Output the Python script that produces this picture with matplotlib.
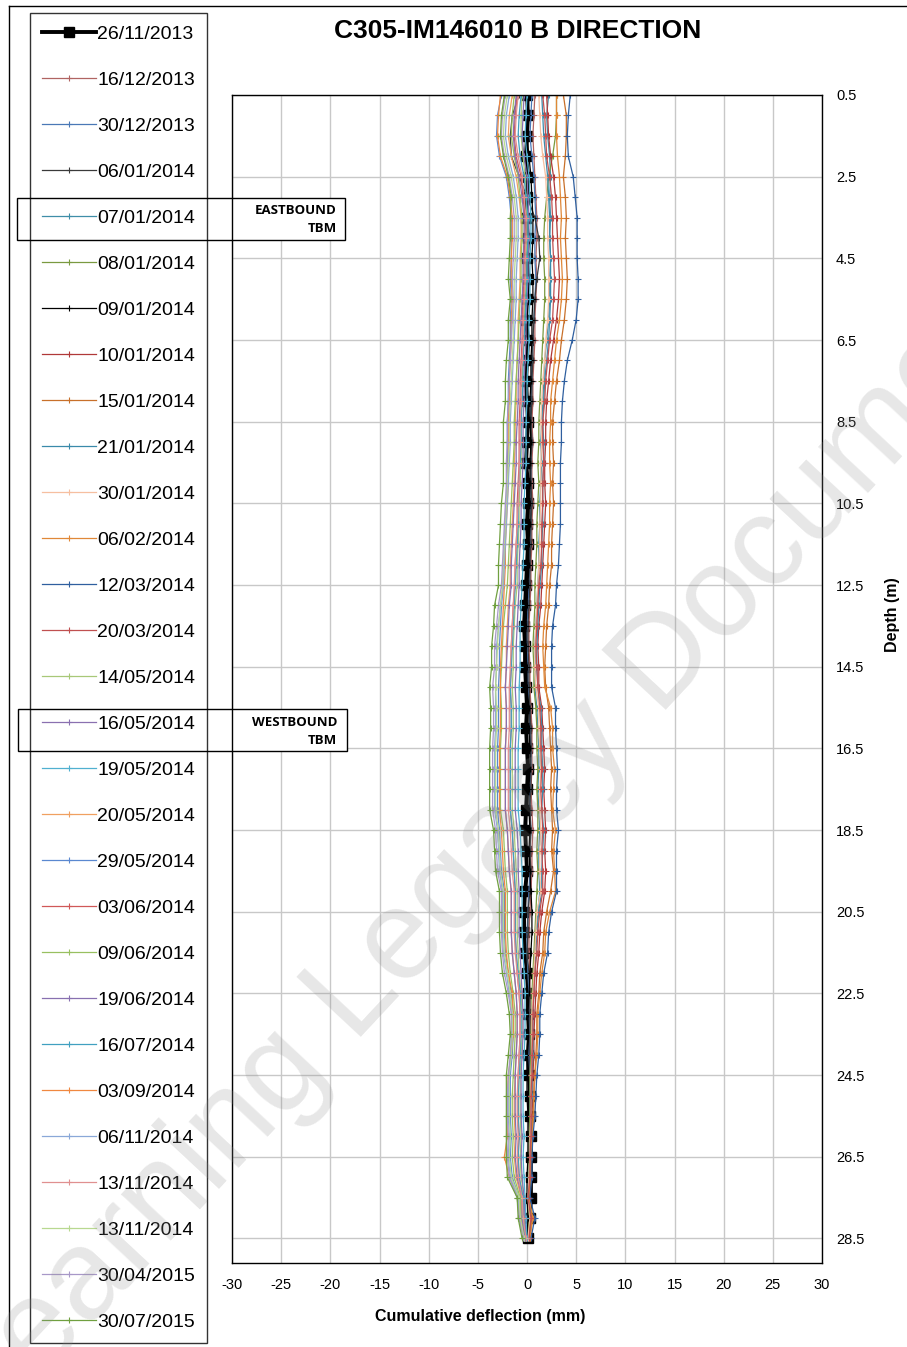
import matplotlib
matplotlib.use("Agg")
import matplotlib.pyplot as plt
from matplotlib.patches import Rectangle
from matplotlib.lines import Line2D
import numpy as np

plt.rcParams['font.family'] = ['Liberation Sans', 'DejaVu Sans']

# ---------------- data ----------------
depths = [0.5, 1.0, 1.5, 2.0, 2.5, 3.0, 3.5, 4.0, 4.5, 5.0,
          5.5, 6.0, 6.5, 7.0, 7.5, 8.0, 8.5, 9.0, 9.5, 10.0,
          10.5, 11.0, 11.5, 12.0, 12.5, 13.0, 13.5, 14.0, 14.5, 15.0,
          15.5, 16.0, 16.5, 17.0, 17.5, 18.0, 18.5, 19.0, 19.5, 20.0,
          20.5, 21.0, 21.5, 22.0, 22.5, 23.0, 23.5, 24.0, 24.5, 25.0,
          25.5, 26.0, 26.5, 27.0, 27.5, 28.0, 28.5]

dates = ["26/11/2013", "16/12/2013", "30/12/2013", "06/01/2014", "07/01/2014",
         "08/01/2014", "09/01/2014", "10/01/2014", "15/01/2014", "21/01/2014",
         "30/01/2014", "06/02/2014", "12/03/2014", "20/03/2014", "14/05/2014",
         "16/05/2014", "19/05/2014", "20/05/2014", "29/05/2014", "03/06/2014",
         "09/06/2014", "19/06/2014", "16/07/2014", "03/09/2014", "06/11/2014",
         "13/11/2014", "13/11/2014", "30/04/2015", "30/07/2015"]

colors = ["#000000", "#b06462", "#4a78b6", "#3a3a3a", "#3f8ea8",
          "#7a9a40", "#000000", "#b03838", "#c8702a", "#3a8aaa",
          "#f6bfa0", "#e08838", "#2f5f9f", "#c05050", "#a8c878",
          "#8a70b0", "#50b0d0", "#f0a060", "#5a88d0", "#d05858",
          "#98c060", "#8870b0", "#40a0c0", "#f08840", "#8aa8d8",
          "#e09090", "#b8d890", "#a898c8", "#70a040"]

d_26_11_2013 = [0.0, 0.1, 0.0, -0.1, 0.1, 0.0, -0.1, 0.1, 0.0, 0.1,
                0.0, -0.1, 0.1, 0.0, -0.1, 0.0, 0.1, 0.0, -0.1, 0.1,
                0.1, 0.0, 0.1, 0.0, -0.1, -0.2, -0.3, -0.2, -0.2, -0.1,
                0.0, -0.1, 0.0, 0.1, 0.0, -0.1, -0.2, -0.1, 0.0, -0.2,
                -0.3, -0.3, -0.2, 0.0, 0.1, 0.1, 0.2, 0.1, 0.2, 0.3,
                0.3, 0.4, 0.4, 0.4, 0.4, 0.3, 0.1]
d_16_12_2013 = [0.8, 0.7, 0.6, 0.7, 0.8, 0.9, 1.0, 1.0, 0.9, 1.0,
                0.9, 0.8, 0.8, 0.7, 0.6, 0.6, 0.5, 0.6, 0.5, 0.5,
                0.6, 0.5, 0.5, 0.4, 0.4, 0.3, 0.2, 0.2, 0.3, 0.3,
                0.4, 0.5, 0.5, 0.5, 0.4, 0.5, 0.6, 0.5, 0.5, 0.4,
                0.3, 0.2, 0.2, 0.3, 0.3, 0.3, 0.4, 0.3, 0.4, 0.4,
                0.4, 0.4, 0.3, 0.3, 0.2, 0.2, 0.1]
d_30_12_2013 = [0.5, 0.4, 0.3, 0.5, 0.7, 0.8, 0.9, 0.8, 0.8, 0.9,
                0.8, 0.7, 0.6, 0.5, 0.5, 0.4, 0.4, 0.5, 0.4, 0.4,
                0.4, 0.4, 0.3, 0.3, 0.2, 0.1, 0.0, 0.0, 0.1, 0.1,
                0.3, 0.3, 0.4, 0.4, 0.3, 0.3, 0.4, 0.3, 0.3, 0.2,
                0.1, 0.0, 0.0, 0.1, 0.2, 0.2, 0.3, 0.2, 0.3, 0.3,
                0.3, 0.3, 0.3, 0.2, 0.1, 0.1, 0.0]
d_06_01_2014 = [-0.8, -1.5, -1.7, -1.6, -0.8, 0.0, 0.8, 1.2, 1.3, 1.0,
                0.8, 0.7, 0.6, 0.6, 0.5, 0.5, 0.4, 0.5, 0.4, 0.4,
                0.5, 0.4, 0.4, 0.3, 0.3, 0.2, 0.1, 0.1, 0.2, 0.2,
                0.3, 0.4, 0.4, 0.4, 0.4, 0.3, 0.4, 0.3, 0.4, 0.3,
                0.1, 0.1, 0.0, 0.2, 0.3, 0.3, 0.3, 0.3, 0.3, 0.4,
                0.4, 0.3, 0.3, 0.3, 0.2, 0.2, 0.1]
d_07_01_2014 = [2.2, 2.0, 2.1, 2.3, 2.4, 2.3, 2.4, 2.3, 2.4, 2.3,
                2.3, 2.2, 2.0, 1.8, 1.7, 1.6, 1.5, 1.4, 1.5, 1.4,
                1.3, 1.3, 1.2, 1.2, 1.1, 1.0, 0.9, 0.8, 0.9, 0.8,
                1.0, 1.1, 1.2, 1.2, 1.1, 1.2, 1.3, 1.2, 1.2, 1.3,
                1.1, 0.9, 0.8, 0.7, 0.6, 0.5, 0.5, 0.5, 0.4, 0.4,
                0.3, 0.3, 0.3, 0.2, 0.1, 0.3, 0.1]
d_08_01_2014 = [3.0, 3.0, 2.9, 2.6, 2.2, 2.0, 1.8, 1.7, 1.7, 1.8,
                1.8, 1.7, 1.6, 1.5, 1.4, 1.3, 1.2, 1.2, 1.1, 1.2,
                1.1, 1.0, 1.0, 0.9, 0.8, 0.8, 0.7, 0.6, 0.7, 0.7,
                0.9, 1.0, 1.0, 1.1, 1.0, 1.1, 1.1, 1.0, 1.1, 1.0,
                0.9, 0.8, 0.7, 0.6, 0.5, 0.5, 0.4, 0.4, 0.3, 0.3,
                0.3, 0.2, 0.2, 0.2, 0.1, 0.2, 0.1]
d_09_01_2014 = [0.2, 0.1, 0.0, 0.2, 0.4, 0.5, 0.6, 0.6, 0.5, 0.6,
                0.6, 0.5, 0.5, 0.4, 0.4, 0.3, 0.3, 0.4, 0.3, 0.3,
                0.3, 0.3, 0.2, 0.2, 0.1, 0.0, -0.1, -0.1, 0.0, 0.0,
                0.2, 0.2, 0.3, 0.3, 0.2, 0.2, 0.3, 0.2, 0.3, 0.4,
                0.5, 0.5, 0.4, 0.3, 0.2, 0.1, 0.1, 0.0, 0.0, 0.0,
                0.1, 0.1, 0.1, 0.0, 0.0, 0.1, 0.0]
d_10_01_2014 = [2.0, 2.1, 2.2, 2.4, 2.7, 2.9, 3.0, 3.1, 3.2, 3.3,
                3.2, 3.0, 2.7, 2.4, 2.2, 2.0, 1.9, 1.9, 1.8, 1.8,
                1.9, 1.8, 1.7, 1.6, 1.5, 1.4, 1.2, 1.1, 1.2, 1.2,
                1.5, 1.6, 1.7, 1.8, 1.7, 1.8, 1.9, 1.8, 1.9, 1.8,
                1.5, 1.3, 1.2, 1.0, 0.9, 0.8, 0.7, 0.7, 0.6, 0.6,
                0.5, 0.5, 0.4, 0.3, 0.2, 0.4, 0.2]
d_15_01_2014 = [3.7, 4.0, 4.0, 3.9, 3.7, 3.9, 4.0, 3.9, 4.0, 4.1,
                4.0, 3.8, 3.5, 3.3, 3.0, 2.8, 2.6, 2.6, 2.7, 2.6,
                2.7, 2.6, 2.5, 2.5, 2.3, 2.2, 2.0, 1.9, 1.8, 1.9,
                2.2, 2.3, 2.4, 2.5, 2.4, 2.5, 2.6, 2.5, 2.7, 2.4,
                2.0, 1.7, 1.6, 1.3, 1.2, 1.0, 1.0, 0.9, 0.8, 0.7,
                0.6, 0.5, 0.4, 0.4, 0.2, 0.5, 0.3]
d_21_01_2014 = [1.5, 1.6, 1.7, 1.9, 2.1, 2.2, 2.3, 2.3, 2.4, 2.4,
                2.4, 2.3, 2.2, 2.0, 1.8, 1.7, 1.6, 1.7, 1.7, 1.6,
                1.6, 1.6, 1.5, 1.5, 1.3, 1.2, 1.1, 1.0, 1.0, 1.1,
                1.4, 1.5, 1.5, 1.6, 1.6, 1.5, 1.7, 1.6, 1.5, 1.5,
                1.2, 1.0, 0.9, 0.8, 0.7, 0.6, 0.6, 0.6, 0.5, 0.5,
                0.4, 0.4, 0.3, 0.3, 0.2, 0.4, 0.2]
d_30_01_2014 = [1.2, 1.3, 1.4, 1.6, 1.9, 2.0, 2.1, 2.1, 2.2, 2.2,
                2.2, 2.1, 1.9, 1.8, 1.6, 1.5, 1.4, 1.5, 1.4, 1.4,
                1.4, 1.3, 1.3, 1.2, 1.1, 1.0, 0.9, 0.8, 0.8, 0.9,
                1.2, 1.2, 1.3, 1.4, 1.3, 1.3, 1.4, 1.3, 1.3, 1.4,
                1.0, 0.9, 0.8, 0.7, 0.6, 0.5, 0.5, 0.5, 0.4, 0.4,
                0.4, 0.3, 0.3, 0.2, 0.1, 0.3, 0.1]
d_06_02_2014 = [3.0, 3.0, 3.0, 3.1, 3.3, 3.4, 3.5, 3.4, 3.5, 3.6,
                3.5, 3.3, 3.0, 2.8, 2.6, 2.4, 2.4, 2.3, 2.3, 2.4,
                2.3, 2.3, 2.2, 2.1, 2.0, 1.9, 1.7, 1.6, 1.7, 1.8,
                2.4, 2.6, 2.6, 2.8, 2.7, 2.6, 2.9, 2.7, 2.8, 2.9,
                2.3, 1.9, 1.8, 1.5, 1.3, 1.1, 1.1, 1.0, 0.8, 0.7,
                0.7, 0.5, 0.4, 0.3, 0.2, 0.6, 0.3]
d_12_03_2014 = [4.4, 4.2, 4.1, 4.2, 4.7, 4.9, 5.1, 5.1, 5.1, 5.2,
                5.2, 5.0, 4.6, 4.1, 3.8, 3.6, 3.5, 3.5, 3.4, 3.4,
                3.4, 3.4, 3.3, 3.2, 3.0, 2.9, 2.6, 2.5, 2.5, 2.5,
                2.9, 2.9, 3.0, 3.1, 3.0, 3.0, 3.2, 3.0, 3.0, 3.0,
                2.5, 2.2, 2.1, 1.7, 1.5, 1.3, 1.3, 1.2, 1.0, 0.9,
                0.8, 0.6, 0.5, 0.5, 0.3, 0.8, 0.4]
d_20_03_2014 = [1.6, 1.8, 1.9, 2.0, 2.3, 2.5, 2.6, 2.6, 2.7, 2.8,
                2.7, 2.6, 2.3, 2.1, 1.9, 1.8, 1.6, 1.6, 1.7, 1.6,
                1.6, 1.5, 1.5, 1.4, 1.2, 1.1, 1.0, 0.9, 1.0, 1.1,
                1.3, 1.4, 1.4, 1.5, 1.4, 1.5, 1.6, 1.5, 1.6, 1.6,
                1.3, 1.1, 1.0, 0.8, 0.7, 0.6, 0.6, 0.5, 0.5, 0.4,
                0.4, 0.4, 0.3, 0.3, 0.1, 0.4, 0.2]
d_14_05_2014 = [-0.5, -0.6, -0.6, -0.4, -0.2, -0.1, 0.0, 0.0, -0.1, -0.1,
                -0.2, -0.3, -0.3, -0.4, -0.5, -0.5, -0.6, -0.6, -0.6, -0.7,
                -0.8, -0.8, -0.9, -1.0, -1.0, -1.2, -1.3, -1.4, -1.4, -1.5,
                -1.4, -1.4, -1.5, -1.5, -1.5, -1.5, -1.3, -1.2, -1.1, -1.0,
                -1.0, -1.0, -0.9, -0.8, -0.6, -0.5, -0.5, -0.6, -0.7, -0.7,
                -0.7, -0.6, -0.7, -0.6, -0.3, -0.3, -0.1]
d_16_05_2014 = [-0.3, -0.4, -0.5, -0.3, 0.0, 0.1, 0.2, 0.2, 0.1, 0.1,
                0.0, -0.1, -0.1, -0.2, -0.3, -0.3, -0.4, -0.4, -0.4, -0.5,
                -0.6, -0.6, -0.7, -0.8, -0.8, -0.9, -1.0, -1.1, -1.1, -1.2,
                -1.1, -1.1, -1.2, -1.2, -1.2, -1.2, -1.0, -0.9, -0.9, -0.8,
                -0.8, -0.8, -0.7, -0.6, -0.5, -0.4, -0.4, -0.5, -0.6, -0.6,
                -0.6, -0.5, -0.6, -0.5, -0.3, -0.2, -0.1]
d_19_05_2014 = [0.0, -0.1, -0.2, 0.0, 0.2, 0.3, 0.4, 0.4, 0.3, 0.3,
                0.3, 0.2, 0.2, 0.1, 0.0, 0.0, -0.1, -0.1, -0.1, -0.2,
                -0.3, -0.3, -0.3, -0.4, -0.5, -0.6, -0.7, -0.7, -0.7, -0.8,
                -0.8, -0.8, -0.9, -0.9, -0.9, -0.9, -0.7, -0.6, -0.5, -0.5,
                -0.5, -0.5, -0.4, -0.3, -0.2, -0.2, -0.2, -0.3, -0.4, -0.4,
                -0.4, -0.3, -0.4, -0.3, -0.2, -0.1, 0.0]
d_20_05_2014 = [-1.5, -1.8, -1.9, -1.6, -1.1, -0.8, -0.6, -0.6, -0.7, -0.7,
                -0.8, -0.9, -0.9, -1.0, -1.1, -1.1, -1.2, -1.2, -1.3, -1.3,
                -1.4, -1.5, -1.6, -1.7, -1.7, -1.9, -2.0, -2.1, -2.1, -2.2,
                -2.1, -2.1, -2.2, -2.2, -2.2, -2.2, -2.0, -1.9, -1.8, -1.6,
                -1.6, -1.6, -1.5, -1.3, -1.1, -1.0, -1.0, -1.1, -1.2, -1.3,
                -1.3, -1.2, -1.3, -1.1, -0.6, -0.5, -0.2]
d_29_05_2014 = [-2.6, -3.0, -3.1, -2.8, -2.1, -1.8, -1.6, -1.6, -1.6, -1.7,
                -1.6, -1.7, -1.7, -1.8, -1.9, -1.9, -2.0, -2.0, -2.0, -2.0,
                -2.1, -2.2, -2.3, -2.4, -2.4, -2.6, -2.7, -2.8, -2.8, -2.9,
                -2.9, -2.9, -3.0, -3.0, -3.0, -3.0, -2.8, -2.7, -2.6, -2.3,
                -2.3, -2.3, -2.2, -1.9, -1.6, -1.4, -1.4, -1.5, -1.7, -1.7,
                -1.7, -1.6, -1.7, -1.5, -0.8, -0.7, -0.3]
d_03_06_2014 = [-1.0, -1.2, -1.3, -1.1, -0.6, -0.4, -0.2, -0.2, -0.3, -0.3,
                -0.4, -0.5, -0.5, -0.6, -0.7, -0.7, -0.8, -0.8, -0.8, -0.9,
                -1.0, -1.0, -1.1, -1.2, -1.2, -1.4, -1.5, -1.6, -1.6, -1.7,
                -1.6, -1.6, -1.7, -1.7, -1.7, -1.7, -1.5, -1.4, -1.3, -1.2,
                -1.2, -1.2, -1.1, -1.0, -0.8, -0.7, -0.7, -0.8, -0.9, -0.9,
                -0.9, -0.8, -0.9, -0.8, -0.4, -0.4, -0.1]
d_09_06_2014 = [-1.3, -1.5, -1.6, -1.3, -0.9, -0.7, -0.5, -0.5, -0.6, -0.6,
                -0.7, -0.8, -0.9, -1.0, -1.1, -1.2, -1.3, -1.3, -1.4, -1.5,
                -1.6, -1.7, -1.8, -1.9, -2.0, -2.2, -2.4, -2.5, -2.6, -2.7,
                -2.6, -2.6, -2.7, -2.7, -2.7, -2.7, -2.4, -2.3, -2.2, -2.0,
                -2.0, -2.0, -1.9, -1.7, -1.4, -1.2, -1.2, -1.3, -1.4, -1.5,
                -1.5, -1.4, -1.5, -1.3, -0.7, -0.6, -0.2]
d_19_06_2014 = [-1.1, -1.3, -1.4, -1.2, -0.8, -0.5, -0.3, -0.3, -0.4, -0.4,
                -0.5, -0.6, -0.7, -0.8, -0.9, -0.9, -1.0, -1.1, -1.1, -1.2,
                -1.3, -1.4, -1.5, -1.6, -1.6, -1.8, -1.9, -2.0, -2.1, -2.2,
                -2.1, -2.1, -2.2, -2.2, -2.2, -2.2, -2.0, -1.9, -1.8, -1.6,
                -1.6, -1.6, -1.5, -1.3, -1.1, -1.0, -1.0, -1.1, -1.2, -1.2,
                -1.2, -1.1, -1.2, -1.0, -0.5, -0.5, -0.2]
d_16_07_2014 = [-0.6, -0.8, -0.9, -0.7, -0.3, -0.1, 0.1, 0.1, 0.0, 0.0,
                -0.1, -0.2, -0.3, -0.4, -0.4, -0.5, -0.6, -0.6, -0.7, -0.8,
                -0.9, -0.9, -1.0, -1.1, -1.2, -1.3, -1.4, -1.5, -1.6, -1.7,
                -1.6, -1.6, -1.7, -1.7, -1.7, -1.7, -1.5, -1.4, -1.3, -1.2,
                -1.2, -1.2, -1.1, -0.9, -0.7, -0.6, -0.6, -0.7, -0.8, -0.9,
                -0.9, -0.8, -0.9, -0.8, -0.4, -0.4, -0.1]
d_03_09_2014 = [-2.7, -2.9, -3.0, -2.7, -2.0, -1.7, -1.5, -1.5, -1.6, -1.6,
                -1.5, -1.6, -1.6, -1.7, -1.8, -1.8, -1.9, -1.9, -1.9, -1.9,
                -2.0, -2.1, -2.2, -2.2, -2.3, -2.4, -2.5, -2.6, -2.7, -2.7,
                -2.7, -2.7, -2.8, -2.8, -2.8, -2.8, -2.6, -2.5, -2.4, -2.2,
                -2.2, -2.2, -2.1, -1.9, -1.5, -1.4, -1.4, -1.6, -1.9, -2.0,
                -2.0, -2.0, -2.3, -1.8, -0.9, -0.8, -0.3]
d_06_11_2014 = [-1.8, -2.1, -2.2, -1.9, -1.4, -1.1, -0.9, -0.9, -1.0, -1.1,
                -1.1, -1.2, -1.3, -1.4, -1.5, -1.6, -1.7, -1.7, -1.8, -1.9,
                -2.0, -2.1, -2.2, -2.3, -2.4, -2.7, -2.9, -3.1, -3.1, -3.2,
                -3.2, -3.2, -3.3, -3.3, -3.3, -3.3, -3.0, -2.9, -2.8, -2.5,
                -2.5, -2.5, -2.4, -2.1, -1.8, -1.5, -1.5, -1.6, -1.8, -1.9,
                -1.9, -1.8, -1.9, -1.7, -0.9, -0.8, -0.3]
d_13_11_2014a = [-0.9, -1.1, -1.2, -0.9, -0.5, -0.3, -0.1, -0.1, -0.2, -0.2,
                 -0.3, -0.4, -0.4, -0.5, -0.6, -0.6, -0.7, -0.7, -0.8, -0.8,
                 -0.9, -1.0, -1.1, -1.2, -1.3, -1.4, -1.5, -1.6, -1.7, -1.8,
                 -1.8, -1.8, -1.9, -1.9, -1.9, -1.9, -1.7, -1.6, -1.5, -1.3,
                 -1.3, -1.3, -1.2, -1.0, -0.8, -0.7, -0.7, -0.8, -0.9, -1.0,
                 -1.0, -0.9, -1.0, -0.9, -0.5, -0.4, -0.1]
d_13_11_2014b = [-2.0, -2.3, -2.4, -2.1, -1.6, -1.3, -1.1, -1.1, -1.2, -1.3,
                 -1.3, -1.4, -1.4, -1.5, -1.6, -1.7, -1.8, -1.8, -1.9, -2.0,
                 -2.1, -2.2, -2.3, -2.4, -2.5, -2.7, -2.9, -3.0, -3.1, -3.2,
                 -3.1, -3.1, -3.2, -3.2, -3.2, -3.2, -2.9, -2.8, -2.7, -2.4,
                 -2.4, -2.4, -2.3, -2.0, -1.7, -1.5, -1.5, -1.6, -1.8, -1.8,
                 -1.8, -1.7, -1.8, -1.6, -0.8, -0.7, -0.3]
d_30_04_2015 = [-2.2, -2.5, -2.6, -2.3, -1.8, -1.5, -1.3, -1.3, -1.4, -1.5,
                -1.4, -1.5, -1.6, -1.7, -1.8, -1.9, -2.0, -2.0, -2.1, -2.1,
                -2.2, -2.3, -2.4, -2.5, -2.6, -2.9, -3.1, -3.3, -3.3, -3.5,
                -3.4, -3.4, -3.5, -3.5, -3.5, -3.5, -3.2, -3.1, -3.0, -2.6,
                -2.6, -2.6, -2.5, -2.3, -1.9, -1.6, -1.6, -1.7, -1.9, -2.0,
                -2.0, -1.9, -2.0, -1.8, -1.0, -0.8, -0.4]
d_30_07_2015 = [-2.3, -2.6, -2.7, -2.4, -1.9, -1.6, -1.7, -1.7, -1.8, -1.9,
                -1.7, -1.9, -1.9, -2.1, -2.2, -2.2, -2.4, -2.4, -2.4, -2.4,
                -2.6, -2.7, -2.8, -2.9, -2.9, -3.3, -3.4, -3.6, -3.6, -3.8,
                -3.7, -3.7, -3.8, -3.8, -3.8, -3.8, -3.4, -3.3, -3.2, -2.8,
                -2.8, -2.8, -2.7, -2.5, -2.1, -1.8, -1.7, -1.9, -2.1, -2.1,
                -2.1, -2.1, -2.1, -2.0, -1.0, -0.9, -0.5]

series = [d_26_11_2013, d_16_12_2013, d_30_12_2013, d_06_01_2014, d_07_01_2014,
          d_08_01_2014, d_09_01_2014, d_10_01_2014, d_15_01_2014, d_21_01_2014,
          d_30_01_2014, d_06_02_2014, d_12_03_2014, d_20_03_2014, d_14_05_2014,
          d_16_05_2014, d_19_05_2014, d_20_05_2014, d_29_05_2014, d_03_06_2014,
          d_09_06_2014, d_19_06_2014, d_16_07_2014, d_03_09_2014, d_06_11_2014,
          d_13_11_2014a, d_13_11_2014b, d_30_04_2015, d_30_07_2015]

x_ticks = [-30, -25, -20, -15, -10, -5, 0, 5, 10, 15, 20, 25, 30]
y_ticks = [0.5, 2.5, 4.5, 6.5, 8.5, 10.5, 12.5, 14.5, 16.5, 18.5,
           20.5, 22.5, 24.5, 26.5, 28.5]
y_tick_labels = ["0.5", "2.5", "4.5", "6.5", "8.5", "10.5", "12.5", "14.5",
                 "16.5", "18.5", "20.5", "22.5", "24.5", "26.5", "28.5"]

# ---------------- figure ----------------
W, H = 907, 1347
fig = plt.figure(figsize=(W / 100, H / 100), dpi=100)


def fx(px):
    return px / W


def fy(py):
    return 1 - py / H


ax_rect = [fx(232), fy(1263), fx(822) - fx(232), fy(95) - fy(1263)]
ax = fig.add_axes(ax_rect, zorder=1)
handles = []
for i, (vals, c, lab) in enumerate(zip(series, colors, dates)):
    if i == 0:
        ln, = ax.plot(vals, depths, color=c, lw=2.8, marker='s', ms=7.5,
                      mec=c, mfc=c, label=lab, zorder=2)
    else:
        ln, = ax.plot(vals, depths, color=c, lw=0.9, marker='+', ms=5,
                      mew=0.8, label=lab, zorder=2)
    handles.append(ln)

ax.set_xlim(-30, 30)
ax.set_ylim(29.1, 0.5)
ax.set_xticks(x_ticks)
ax.set_xticklabels([str(v) for v in x_ticks])
ax.set_yticks(y_ticks)
ax.set_yticklabels(y_tick_labels)
ax.yaxis.tick_right()
ax.tick_params(axis='both', length=0, labelsize=10.5, colors='black')
ax.tick_params(axis='x', pad=11)
ax.tick_params(axis='y', pad=10)
ax.grid(True, color='#c8c8c8', lw=1.0)
ax.set_axisbelow(True)
for sp in ax.spines.values():
    sp.set_visible(False)

# frame axes (spines above the annotation boxes)
ax_f = fig.add_axes(ax_rect, zorder=3)
ax_f.patch.set_alpha(0)
ax_f.set_xticks([])
ax_f.set_yticks([])
for sp in ax_f.spines.values():
    sp.set_color('black')
    sp.set_linewidth(1.0)

# overlay for annotation boxes
ov = fig.add_axes([0, 0, 1, 1], zorder=2)
ov.set_xlim(0, W)
ov.set_ylim(H, 0)
ov.axis('off')
ov.patch.set_alpha(0)
ov.add_patch(Rectangle((16.5, 197.5), 328, 42, facecolor='white',
                       edgecolor='black', lw=1.0))
ov.add_patch(Rectangle((18, 709), 329, 42, facecolor='white',
                       edgecolor='black', lw=1.0))
for txt, yy in [("EASTBOUND", 210), ("TBM", 229), ("WESTBOUND", 722), ("TBM", 741)]:
    ov.text(337, yy, txt, ha='right', va='center', fontsize=9.5,
            fontweight='bold', family=['Open Sans', 'DejaVu Sans'])

# legend axes on top
lg_ax = fig.add_axes([0, 0, 1, 1], zorder=4)
lg_ax.axis('off')
lg_ax.patch.set_alpha(0)
leg = lg_ax.legend(handles=handles, labels=dates, loc='upper left',
                   bbox_to_anchor=(fx(30), fy(13)), bbox_transform=fig.transFigure,
                   borderaxespad=0, fontsize=14, labelspacing=1.46,
                   handlelength=2.75, handletextpad=0.08, borderpad=0.62,
                   numpoints=1, fancybox=False, frameon=True)
leg.get_frame().set_edgecolor('black')
leg.get_frame().set_linewidth(1.0)
leg.get_frame().set_facecolor('none')

# outer chart frame
fig.add_artist(Line2D([fx(8.5), fx(8.5)], [fy(6), 0], color='black', lw=1.0))
fig.add_artist(Line2D([fx(8.5), 1], [fy(6), fy(6)], color='black', lw=1.0))

# titles
fig.text(fx(518), fy(31), "C305-IM146010 B DIRECTION", ha='center', va='center',
         fontsize=19, fontweight='bold')
fig.text(fx(480), fy(1316), "Cumulative deflection (mm)", ha='center', va='center',
         fontsize=11.5, fontweight='bold')
fig.text(fx(893), fy(615), "Depth (m)", ha='center', va='center', rotation=90,
         fontsize=11.5, fontweight='bold')

# watermark
fig.text(fx(500), fy(840), "Learning Legacy Document", ha='center', va='center',
         rotation=47, fontsize=92, color='#909090', alpha=0.22, zorder=10)

fig.savefig("out.png", dpi=100)
